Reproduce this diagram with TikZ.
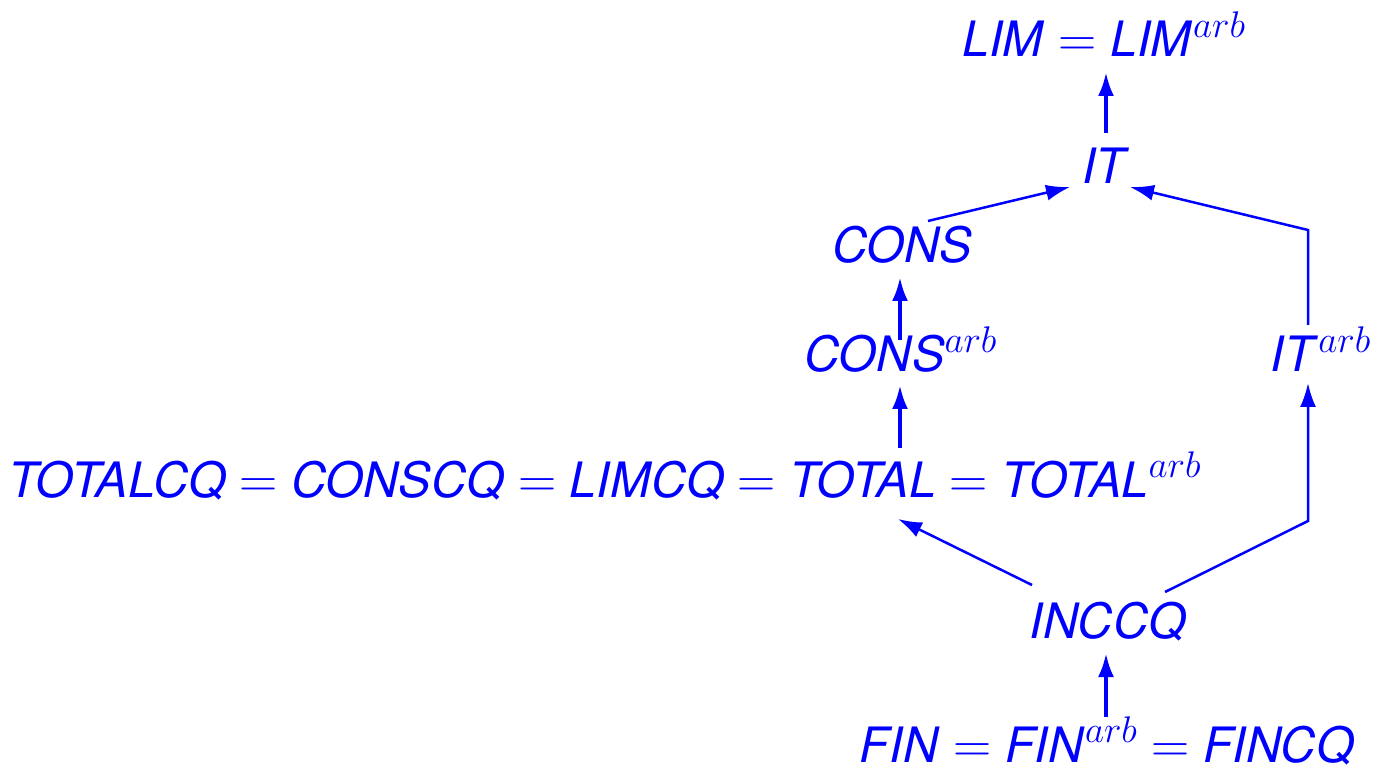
\documentclass[tikz,border=0pt]{standalone}
\usepackage{fix-cm}
\usepackage[no-math]{fontspec}
\newfontfamily\hv[Scale=0.92]{TeX Gyre Heros}
\usetikzlibrary{arrows.meta}
\newcommand{\w}[1]{\textit{#1}}
\begin{document}
\begin{tikzpicture}[x=0.5pt,y=-0.5pt,
  lbl/.style={anchor=base,inner sep=0pt,text=blue,font=\hv\fontsize{26.5}{30}\selectfont},
  arr/.style={draw=blue,line width=1.25pt,-{Latex[length=12pt,width=8pt]}},
  tarr/.style={arr,line width=2pt}]
\useasboundingbox (0,0) rectangle (1383,770);
\node[lbl] (lim) at (1104,57) {\w{LIM} $=$ \w{LIM}$^{arb}$};
\node[lbl] (it) at (1106,184) {\w{IT}};
\node[lbl] (cons) at (902,263) {\w{CONS}};
\node[lbl] (consarb) at (901,372) {\w{CONS}$^{arb}$};
\node[lbl] (itarb) at (1321,372) {\w{IT}$^{arb}$};
\node[lbl] (total) at (605,497) {\w{TOTALCQ} $=$ \w{CONSCQ} $=$ \w{LIMCQ} $=$ \w{TOTAL} $=$ \w{TOTAL}$^{arb}$};
\node[lbl] (inccq) at (1108,638) {\w{INCCQ}};
\node[lbl] (fin) at (1107,762) {\w{FIN} $=$ \w{FIN}$^{arb}$ $=$ \w{FINCQ}};
\coordinate (c1) at (1308,521);
\coordinate (c2) at (1308,230);
\draw[tarr] ([shift={(-1,-45)}]fin.base) -- ([shift={(-2,15)}]inccq.base);
\draw[arr] ([shift={(-76,-53)}]inccq.base) -- ([shift={(293,22)}]total.base);
\draw[arr] ([shift={(57,-46)}]inccq.base) -- (c1) -- ([shift={(-13,11)}]itarb.base);
\draw[tarr] ([shift={(295,-49)}]total.base) -- ([shift={(-1,13)}]consarb.base);
\draw[tarr] ([shift={(-1,-32)}]consarb.base) -- ([shift={(-2,14)}]cons.base);
\draw[arr] ([shift={(26,-42)}]cons.base) -- ([shift={(-36,3)}]it.base);
\draw[arr] ([shift={(-13,-47)}]itarb.base) -- (c2) -- ([shift={(24,3)}]it.base);
\draw[tarr] ([shift={(0,-51)}]it.base) -- ([shift={(2,15)}]lim.base);
\end{tikzpicture}
\end{document}
